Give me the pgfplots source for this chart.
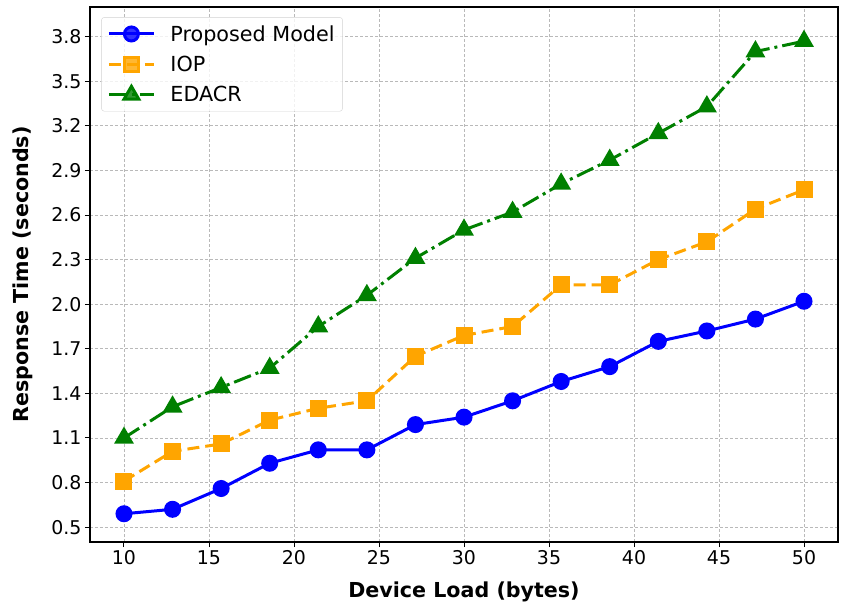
\documentclass[border=0pt]{standalone}
\usepackage{fontspec}
\setmainfont{DejaVu Sans}
\usepackage{pgfplots}
\pgfplotsset{compat=1.18}
\definecolor{mplblue}{RGB}{0,0,255}
\definecolor{mplorange}{RGB}{255,165,0}
\definecolor{mplgreen}{RGB}{0,128,0}

\pgfplotstableread{
x y
10.000 0.59
12.857 0.62
15.714 0.76
18.571 0.93
21.429 1.02
24.286 1.02
27.143 1.19
30.000 1.24
32.857 1.35
35.714 1.48
38.571 1.58
41.429 1.75
44.286 1.82
47.143 1.90
50.000 2.02
}\proposed
\pgfplotstableread{
x y
10.000 0.81
12.857 1.01
15.714 1.06
18.571 1.22
21.429 1.30
24.286 1.35
27.143 1.65
30.000 1.79
32.857 1.85
35.714 2.13
38.571 2.13
41.429 2.30
44.286 2.42
47.143 2.64
50.000 2.77
}\iop
\pgfplotstableread{
x y
10.000 1.10
12.857 1.31
15.714 1.44
18.571 1.57
21.429 1.85
24.286 2.06
27.143 2.31
30.000 2.50
32.857 2.62
35.714 2.81
38.571 2.97
41.429 3.15
44.286 3.33
47.143 3.70
50.000 3.77
}\edacr

\begin{document}
\begin{tikzpicture}
\begin{axis}[
  name=ax,
  scale only axis,
  width=748bp, height=535bp,
  xmin=8, xmax=52, ymin=0.4, ymax=4.0,
  xtick={10,15,...,50},
  ytick={0.5,0.8,1.1,1.4,1.7,2.0,2.3,2.6,2.9,3.2,3.5,3.8},
  yticklabel style={/pgf/number format/.cd, fixed, fixed zerofill, precision=1},
  /pgf/number format/assume math mode=true,
  tick align=outside, tick pos=left,
  major tick length=5bp,
  every tick/.style={black, line width=1bp},
  axis line style={black, line width=1.3bp},
  grid=major,
  major grid style={gray!55, dash pattern=on 3bp off 2bp, line width=0.8bp},
  ticklabel style={font=\fontsize{19}{23}\selectfont},
  xlabel={\textbf{Device Load (bytes)}},
  ylabel={\textbf{Response Time (seconds)}},
  label style={font=\fontsize{20.7}{24}\selectfont},
  xlabel style={at={(axis description cs:0.5,-0.0935)}, anchor=center},
  ylabel style={at={(axis description cs:-0.0896,0.5)}, anchor=center},
  legend style={at={(axis description cs:0.015,0.981)}, anchor=north west,
    draw=gray!35, rounded corners=3bp, fill=white, fill opacity=0.8, text opacity=1,
    draw opacity=1, font=\fontsize{20.8}{24}\selectfont, row sep=9.5bp, column sep=13bp,
    inner xsep=6bp, inner ysep=6bp},
  legend cell align=left,
  legend image code/.code={%
    \draw[mark repeat=2,mark phase=2,sharp corners,#1] plot coordinates {(0bp,0bp) (22.5bp,0bp) (45bp,0bp)};},
]
\addplot[mplblue, line width=3bp, mark=*, mark size=7bp, mark options={solid}] table[x=x,y=y] {\proposed};
\addlegendentry{Proposed Model}
\addplot[mplorange, line width=3bp, dash pattern=on 12bp off 6bp, mark=square*, mark size=7bp, mark options={solid}] table[x=x,y=y] {\iop};
\addlegendentry{IOP}
\addplot[mplgreen, line width=3bp, dash pattern=on 18bp off 5bp on 3bp off 5bp, mark=triangle*, mark size=8.5bp, mark options={solid}] table[x=x,y=y] {\edacr};
\addlegendentry{EDACR}
\end{axis}
\pgfresetboundingbox
\path[use as bounding box] ([shift={(-90bp,-64bp)}]ax.south west) rectangle ([shift={(4bp,7bp)}]ax.north east);
\end{tikzpicture}
\end{document}
